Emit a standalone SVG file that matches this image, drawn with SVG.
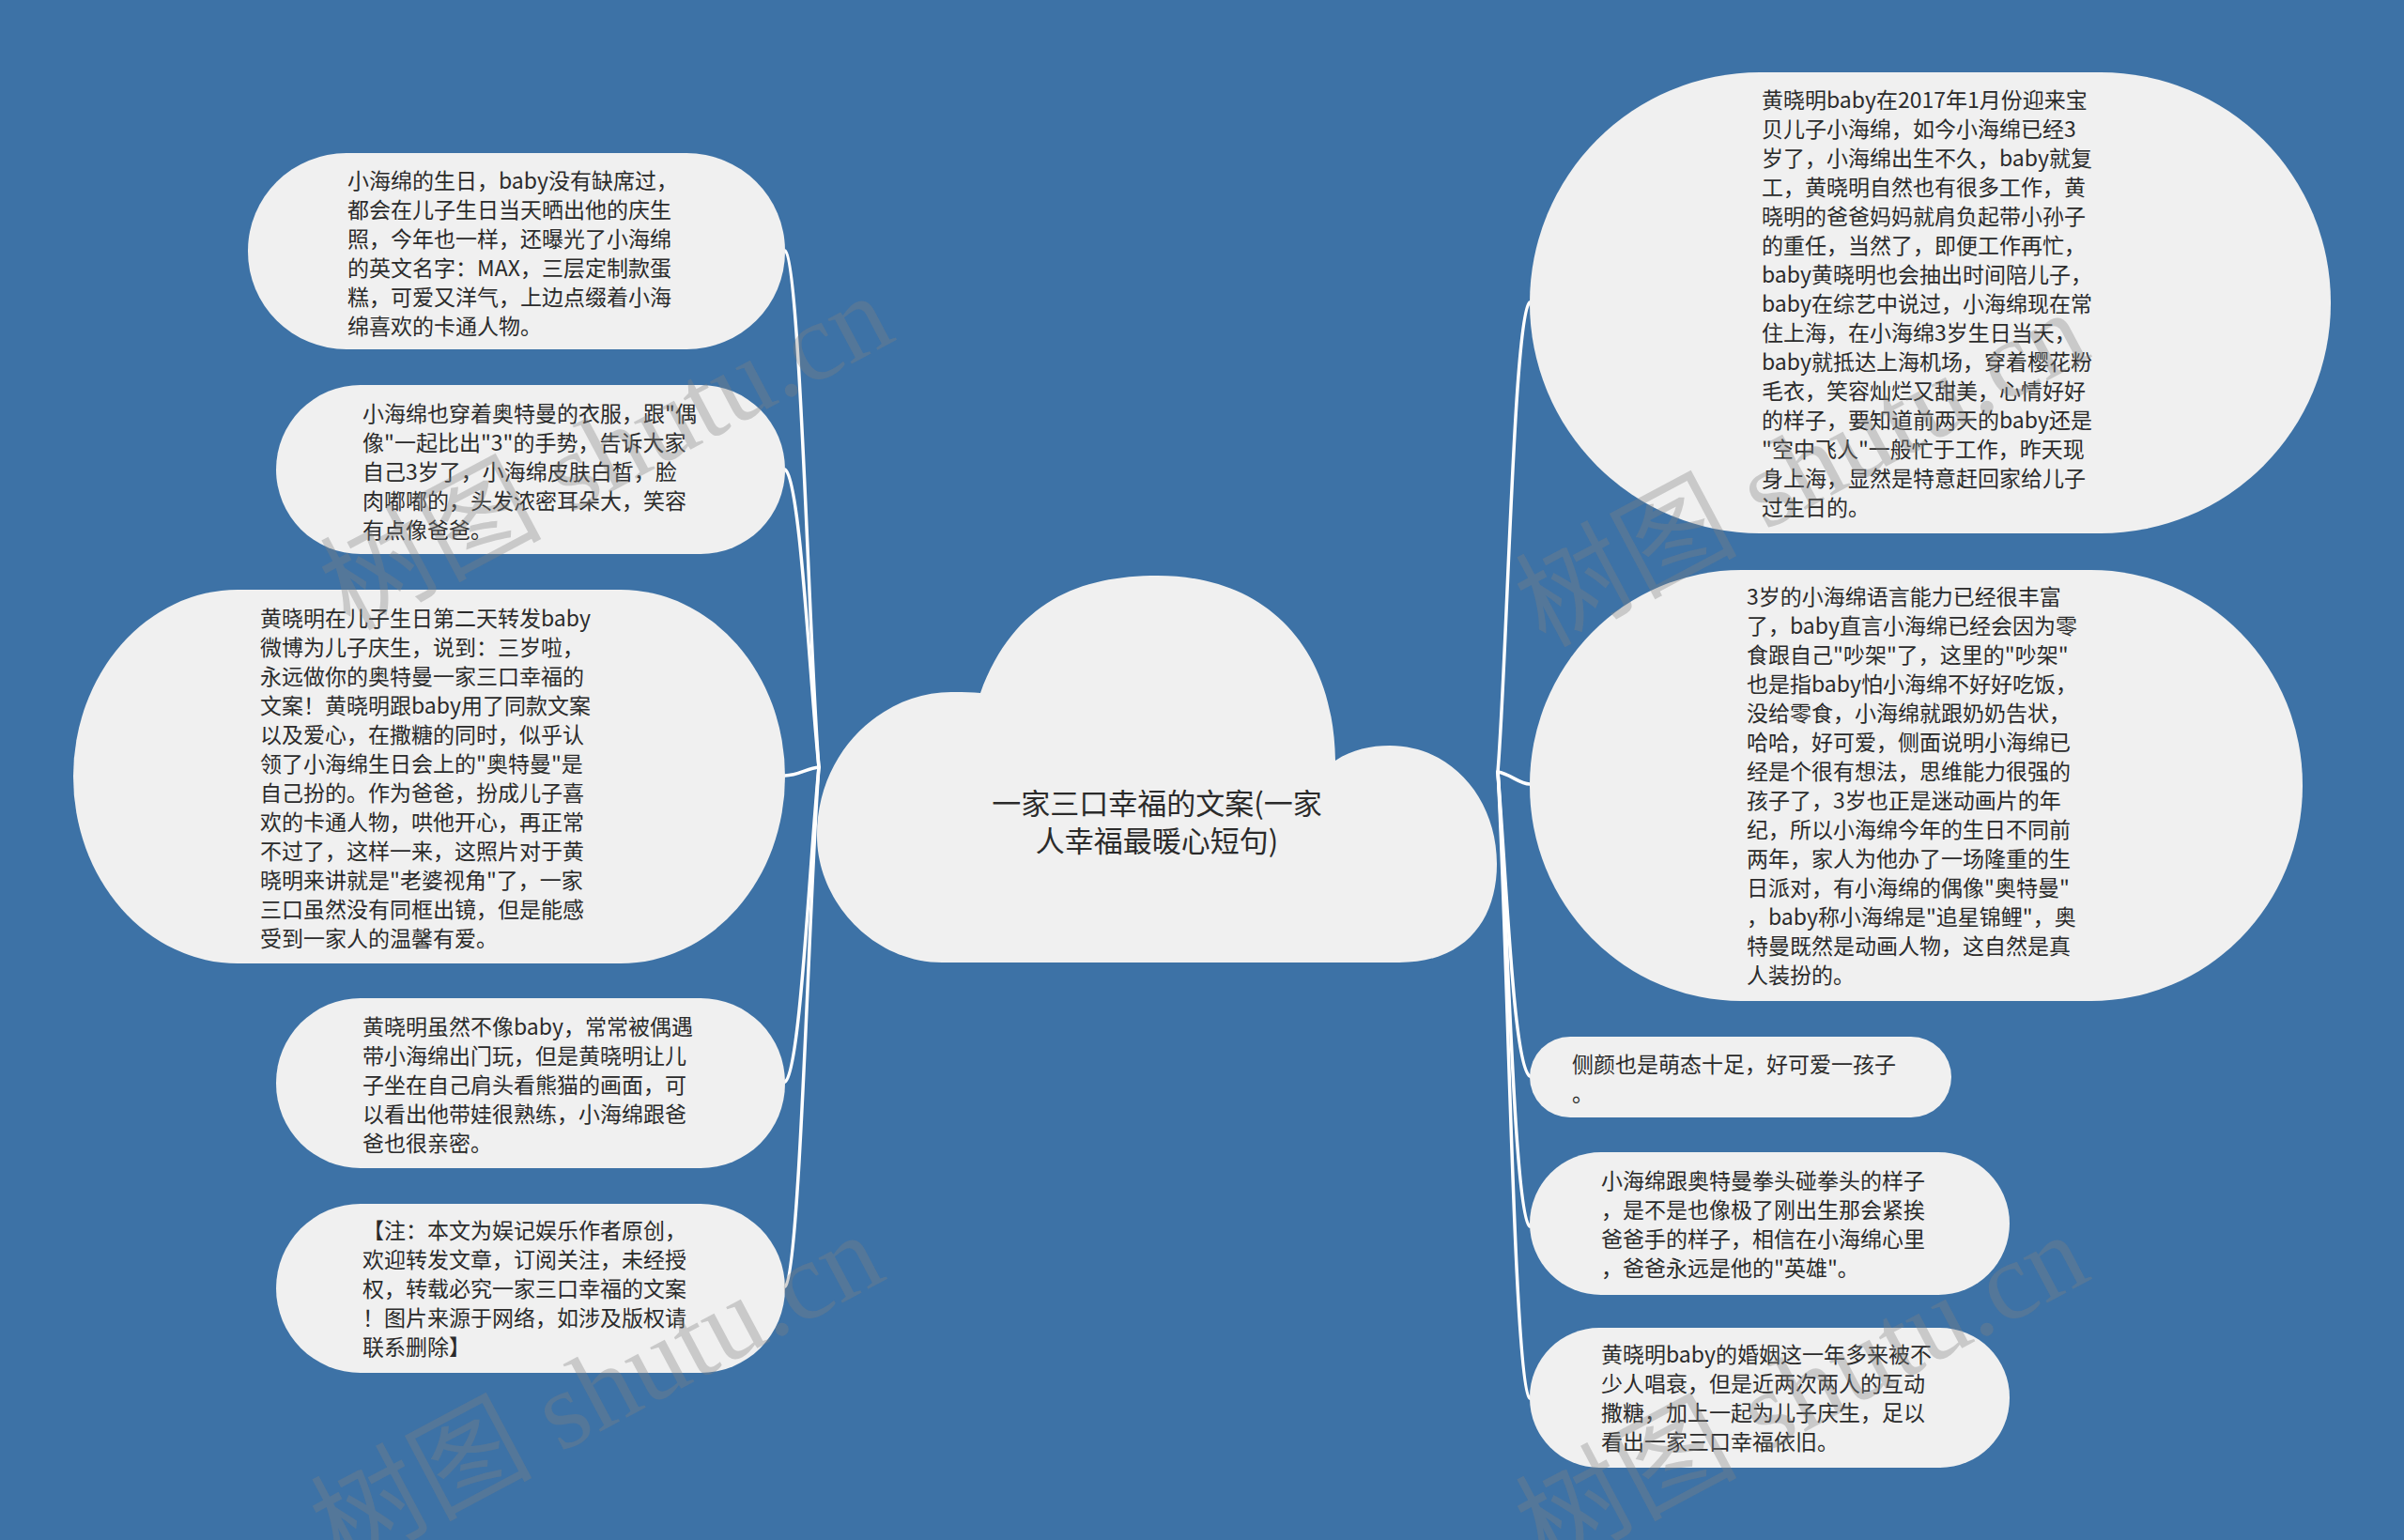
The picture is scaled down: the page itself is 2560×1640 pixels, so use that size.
<svg xmlns="http://www.w3.org/2000/svg" width="2560" height="1640" viewBox="0 0 2560 1640">
<style>
.bg{fill:#3d72a6}
.node{fill:#f0f0f0}
.t{font-family:"Noto Sans CJK SC","Noto Sans",sans-serif;font-size:23px;fill:#2b2b2b}
.tc{font-family:"Noto Sans CJK SC","Noto Sans",sans-serif;font-size:31px;fill:#2b2b2b;text-anchor:middle}
.edge{fill:none;stroke:#ffffff;stroke-width:3.5;stroke-linecap:round}
.wm{font-family:"Liberation Serif","Noto Sans CJK SC",serif;font-size:118px;fill:#808080;fill-opacity:0.35}
</style>
<rect class="bg" x="0" y="0" width="2560" height="1640"/>
<g id="connectors">
<path class="edge" d="M872,817 C862,700 852,275 836,267"/>
<path class="edge" d="M872,817 C862,720 852,510 836,500"/>
<path class="edge" d="M872,817 C860,818 850,826 836,826"/>
<path class="edge" d="M872,817 C862,920 852,1142 836,1152"/>
<path class="edge" d="M872,817 C862,940 852,1360 836,1370"/>
<path class="edge" d="M1595,822 C1605,700 1612,335 1629,322"/>
<path class="edge" d="M1595,822 C1608,824 1618,835 1629,835"/>
<path class="edge" d="M1595,822 C1605,950 1612,1135 1629,1146"/>
<path class="edge" d="M1595,822 C1605,960 1612,1295 1629,1306"/>
<path class="edge" d="M1595,822 C1605,980 1612,1478 1629,1489"/>
</g>
<g id="center">
<path class="node" d="M1044,738 C1080,640 1150,613 1233,613 C1340,613 1420,680 1422,810 C1440,798 1460,794 1480,794 C1545,794 1594,850 1594,920 C1594,980 1560,1025 1490,1025 L1003,1025 C930,1025 870,960 870,890 C870,800 940,737 1013,737 C1025,737 1035,737 1044,738 Z"/>
<text class="tc" x="1232" y="867">一家三口幸福的文案(一家</text>
<text class="tc" x="1232" y="907">人幸福最暖心短句)</text>
</g>
<g id="left1">
<rect class="node" x="264" y="163" width="572" height="209" rx="105" ry="104"/>
<text class="t" x="370" y="201">小海绵的生日，baby没有缺席过，</text>
<text class="t" x="370" y="232">都会在儿子生日当天晒出他的庆生</text>
<text class="t" x="370" y="263">照，今年也一样，还曝光了小海绵</text>
<text class="t" x="370" y="294">的英文名字：MAX，三层定制款蛋</text>
<text class="t" x="370" y="325">糕，可爱又洋气，上边点缀着小海</text>
<text class="t" x="370" y="356">绵喜欢的卡通人物。</text>
</g>
<g id="left2">
<rect class="node" x="294" y="410" width="542" height="180" rx="90" ry="90"/>
<text class="t" x="386" y="449">小海绵也穿着奥特曼的衣服，跟"偶</text>
<text class="t" x="386" y="480">像"一起比出"3"的手势，告诉大家</text>
<text class="t" x="386" y="511">自己3岁了，小海绵皮肤白皙，脸</text>
<text class="t" x="386" y="542">肉嘟嘟的，头发浓密耳朵大，笑容</text>
<text class="t" x="386" y="573">有点像爸爸。</text>
</g>
<g id="left3">
<rect class="node" x="78" y="628" width="758" height="398" rx="175" ry="199"/>
<text class="t" x="277" y="667">黄晓明在儿子生日第二天转发baby</text>
<text class="t" x="277" y="698">微博为儿子庆生，说到：三岁啦，</text>
<text class="t" x="277" y="729">永远做你的奥特曼一家三口幸福的</text>
<text class="t" x="277" y="760">文案！黄晓明跟baby用了同款文案</text>
<text class="t" x="277" y="791">以及爱心，在撒糖的同时，似乎认</text>
<text class="t" x="277" y="822">领了小海绵生日会上的"奥特曼"是</text>
<text class="t" x="277" y="853">自己扮的。作为爸爸，扮成儿子喜</text>
<text class="t" x="277" y="884">欢的卡通人物，哄他开心，再正常</text>
<text class="t" x="277" y="915">不过了，这样一来，这照片对于黄</text>
<text class="t" x="277" y="946">晓明来讲就是"老婆视角"了，一家</text>
<text class="t" x="277" y="977">三口虽然没有同框出镜，但是能感</text>
<text class="t" x="277" y="1008">受到一家人的温馨有爱。</text>
</g>
<g id="left4">
<rect class="node" x="294" y="1063" width="542" height="181" rx="90" ry="90"/>
<text class="t" x="386" y="1102">黄晓明虽然不像baby，常常被偶遇</text>
<text class="t" x="386" y="1133">带小海绵出门玩，但是黄晓明让儿</text>
<text class="t" x="386" y="1164">子坐在自己肩头看熊猫的画面，可</text>
<text class="t" x="386" y="1195">以看出他带娃很熟练，小海绵跟爸</text>
<text class="t" x="386" y="1226">爸也很亲密。</text>
</g>
<g id="left5">
<rect class="node" x="294" y="1282" width="542" height="180" rx="90" ry="90"/>
<text class="t" x="386" y="1319">【注：本文为娱记娱乐作者原创，</text>
<text class="t" x="386" y="1350">欢迎转发文章，订阅关注，未经授</text>
<text class="t" x="386" y="1381">权，转载必究一家三口幸福的文案</text>
<text class="t" x="386" y="1412">！图片来源于网络，如涉及版权请</text>
<text class="t" x="386" y="1443">联系删除】</text>
</g>
<g id="right1">
<rect class="node" x="1629" y="77" width="853" height="491" rx="245" ry="245"/>
<text class="t" x="1876" y="115">黄晓明baby在2017年1月份迎来宝</text>
<text class="t" x="1876" y="146">贝儿子小海绵，如今小海绵已经3</text>
<text class="t" x="1876" y="177">岁了，小海绵出生不久，baby就复</text>
<text class="t" x="1876" y="208">工，黄晓明自然也有很多工作，黄</text>
<text class="t" x="1876" y="239">晓明的爸爸妈妈就肩负起带小孙子</text>
<text class="t" x="1876" y="270">的重任，当然了，即便工作再忙，</text>
<text class="t" x="1876" y="301">baby黄晓明也会抽出时间陪儿子，</text>
<text class="t" x="1876" y="332">baby在综艺中说过，小海绵现在常</text>
<text class="t" x="1876" y="363">住上海，在小海绵3岁生日当天，</text>
<text class="t" x="1876" y="394">baby就抵达上海机场，穿着樱花粉</text>
<text class="t" x="1876" y="425">毛衣，笑容灿烂又甜美，心情好好</text>
<text class="t" x="1876" y="456">的样子，要知道前两天的baby还是</text>
<text class="t" x="1876" y="487">"空中飞人"一般忙于工作，昨天现</text>
<text class="t" x="1876" y="518">身上海，显然是特意赶回家给儿子</text>
<text class="t" x="1876" y="549">过生日的。</text>
</g>
<g id="right2">
<rect class="node" x="1629" y="607" width="823" height="459" rx="225" ry="229"/>
<text class="t" x="1860" y="644">3岁的小海绵语言能力已经很丰富</text>
<text class="t" x="1860" y="675">了，baby直言小海绵已经会因为零</text>
<text class="t" x="1860" y="706">食跟自己"吵架"了，这里的"吵架"</text>
<text class="t" x="1860" y="737">也是指baby怕小海绵不好好吃饭，</text>
<text class="t" x="1860" y="768">没给零食，小海绵就跟奶奶告状，</text>
<text class="t" x="1860" y="799">哈哈，好可爱，侧面说明小海绵已</text>
<text class="t" x="1860" y="830">经是个很有想法，思维能力很强的</text>
<text class="t" x="1860" y="861">孩子了，3岁也正是迷动画片的年</text>
<text class="t" x="1860" y="892">纪，所以小海绵今年的生日不同前</text>
<text class="t" x="1860" y="923">两年，家人为他办了一场隆重的生</text>
<text class="t" x="1860" y="954">日派对，有小海绵的偶像"奥特曼"</text>
<text class="t" x="1860" y="985">，baby称小海绵是"追星锦鲤"，奥</text>
<text class="t" x="1860" y="1016">特曼既然是动画人物，这自然是真</text>
<text class="t" x="1860" y="1047">人装扮的。</text>
</g>
<g id="right3">
<rect class="node" x="1629" y="1104" width="449" height="86" rx="43" ry="43"/>
<text class="t" x="1674" y="1142">侧颜也是萌态十足，好可爱一孩子</text>
<text class="t" x="1674" y="1173">。</text>
</g>
<g id="right4">
<rect class="node" x="1629" y="1227" width="511" height="152" rx="76" ry="76"/>
<text class="t" x="1705" y="1266">小海绵跟奥特曼拳头碰拳头的样子</text>
<text class="t" x="1705" y="1297">，是不是也像极了刚出生那会紧挨</text>
<text class="t" x="1705" y="1328">爸爸手的样子，相信在小海绵心里</text>
<text class="t" x="1705" y="1359">，爸爸永远是他的"英雄"。</text>
</g>
<g id="right5">
<rect class="node" x="1629" y="1414" width="511" height="149" rx="74" ry="74"/>
<text class="t" x="1705" y="1451">黄晓明baby的婚姻这一年多来被不</text>
<text class="t" x="1705" y="1482">少人唱衰，但是近两次两人的互动</text>
<text class="t" x="1705" y="1513">撒糖，加上一起为儿子庆生，足以</text>
<text class="t" x="1705" y="1544">看出一家三口幸福依旧。</text>
</g>
<g id="watermarks">
<text class="wm" transform="translate(372,672) rotate(-28)">树图 shutu.cn</text>
<text class="wm" transform="translate(362,1672) rotate(-28)">树图 shutu.cn</text>
<text class="wm" transform="translate(1645,690) rotate(-28)">树图 shutu.cn</text>
<text class="wm" transform="translate(1645,1672) rotate(-28)">树图 shutu.cn</text>
</g>
</svg>
